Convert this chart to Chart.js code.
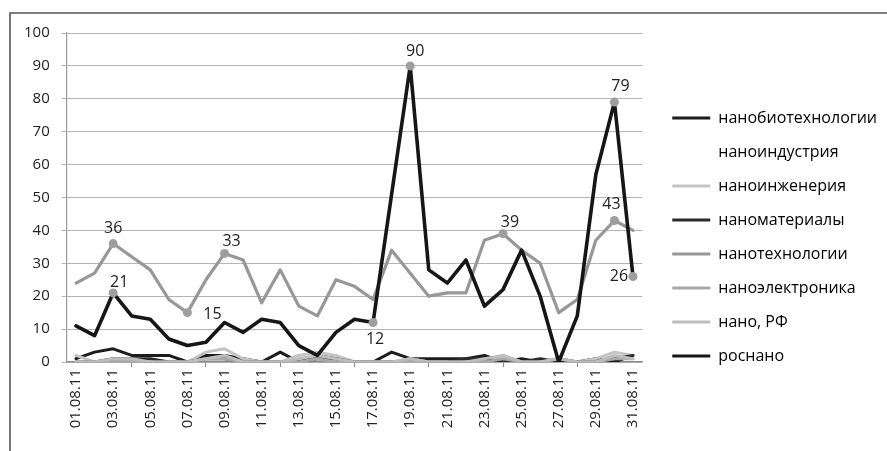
<!DOCTYPE html>
<html>
<head>
<meta charset="utf-8">
<script src="https://cdn.jsdelivr.net/npm/chart.js@4.4.1/dist/chart.umd.min.js"></script>
<style>
  html, body { margin: 0; padding: 0; background: #fff; }
  #wrap { position: relative; width: 887px; height: 451px; }
</style>
</head>
<body>
<div id="wrap"><canvas id="c" width="887" height="451"></canvas></div>
<script>
// Daily mentions of nano-related search terms, August 2011
const days = ['01.08.11','02.08.11','03.08.11','04.08.11','05.08.11','06.08.11','07.08.11','08.08.11',
  '09.08.11','10.08.11','11.08.11','12.08.11','13.08.11','14.08.11','15.08.11','16.08.11',
  '17.08.11','18.08.11','19.08.11','20.08.11','21.08.11','22.08.11','23.08.11','24.08.11',
  '25.08.11','26.08.11','27.08.11','28.08.11','29.08.11','30.08.11','31.08.11'];

const seriesNames = ['нанобиотехнологии','наноиндустрия','наноинженерия','наноматериалы',
  'нанотехнологии','наноэлектроника','нано, РФ','роснано'];

const nanobio   = [1,3,4,2,2,2,0,2,2,1,0,3,0,1,1,0,0,3,1,1,1,1,2,0,1,0,1,0,1,0,2];
const nanoind   = [0,0,0,0,0,0,0,0,0,0,0,0,0,0,0,0,0,0,0,0,0,0,0,0,0,0,0,0,0,0,0];
const nanoeng   = [2,0,0,0,0,0,0,3,4,1,0,0,2,3,2,0,0,0,1,0,0,0,0,2,0,0,0,0,1,3,2];
const nanomat   = [0,0,1,1,1,0,0,1,1,0,0,0,0,2,1,0,0,0,0,0,0,1,1,0,0,1,0,0,0,1,2];
const nanotech  = [24,27,36,32,28,19,15,25,33,31,18,28,17,14,25,23,19,34,27,20,21,21,37,39,34,30,15,19,37,43,40];
const nanoelec  = [0,0,0,0,0,0,0,1,1,0,0,0,0,1,0,0,0,0,0,0,0,0,0,1,0,0,1,0,0,1,1];
const nanoRF    = [0,0,1,1,0,0,0,1,2,0,0,0,1,2,1,0,0,0,1,0,0,0,1,2,0,0,1,0,0,2,1];
const rosnano   = [11,8,21,14,13,7,5,6,12,9,13,12,5,2,9,13,12,51,90,28,24,31,17,22,34,20,0,14,57,79,26];

// indices of points carrying a value label
const nanotechLabeled = [2, 6, 8, 23, 29];
const rosnanoLabeled  = [2, 16, 18, 29, 30];

const seriesValues = [nanobio, nanoind, nanoeng, nanomat, nanotech, nanoelec, nanoRF, rosnano];
const seriesColors = ['#1c1c1c', 'rgba(0,0,0,0)', '#c4c4c4', '#2a2a2a', '#979797', '#a8a8a8', '#bdbdbd', '#161616'];
const seriesWidths = [3, 3, 3, 3, 3.2, 3, 3, 3.6];

// label offsets (px) relative to the marker centre, per labelled point
const labelOffsets = {
  4: [[0, -15], [25, 2], [7, -12], [7, -11], [-3, -16]],
  7: [[6, -10], [2, 17], [5, -14], [6, -16], [-14, 0]]
};
const labeledIdx = { 4: nanotechLabeled, 7: rosnanoLabeled };

function radiusArray(n, labeled) {
  const r = [];
  for (let i = 0; i < n; i++) r.push(labeled.includes(i) ? 4.5 : 0);
  return r;
}

const datasets = seriesNames.map((name, k) => ({
  label: name,
  data: seriesValues[k],
  borderColor: seriesColors[k],
  backgroundColor: seriesColors[k],
  borderWidth: seriesWidths[k],
  tension: 0,
  fill: false,
  order: seriesNames.length - 1 - k,
  pointRadius: labeledIdx[k] ? radiusArray(days.length, labeledIdx[k]) : 0,
  pointBackgroundColor: '#9e9e9e',
  pointBorderWidth: 0,
  pointHoverRadius: 0,
  borderJoinStyle: 'round',
  borderCapStyle: 'round'
}));

// outer frame of the chart box (top and left edges)
const frame = {
  id: 'frame',
  beforeDraw(chart) {
    const ctx = chart.ctx;
    ctx.save();
    ctx.fillStyle = '#fff';
    ctx.fillRect(0, 0, chart.width, chart.height);
    ctx.strokeStyle = '#555';
    ctx.lineWidth = 1.6;
    ctx.beginPath();
    ctx.moveTo(10, chart.height);
    ctx.lineTo(10, 13);
    ctx.lineTo(chart.width, 13);
    ctx.stroke();
    ctx.restore();
  }
};

// value labels next to the marked points
const valueLabels = {
  id: 'valueLabels',
  afterDatasetsDraw(chart) {
    const ctx = chart.ctx;
    ctx.save();
    ctx.font = '16px "Open Sans", sans-serif';
    ctx.fillStyle = '#222';
    ctx.textAlign = 'center';
    ctx.textBaseline = 'middle';
    Object.keys(labeledIdx).forEach(k => {
      const meta = chart.getDatasetMeta(+k);
      labeledIdx[k].forEach((i, j) => {
        const p = meta.data[i];
        const off = labelOffsets[k][j];
        ctx.fillText(String(seriesValues[k][i]), p.x + off[0], p.y + off[1]);
      });
    });
    ctx.restore();
  }
};

const chart = new Chart(document.getElementById('c'), {
  type: 'line',
  data: { labels: days, datasets },
  options: {
    responsive: false,
    animation: false,
    events: [],
    layout: { padding: { left: 12, top: 33, right: 0, bottom: 10 } },
    plugins: {
      legend: {
        position: 'right',
        maxWidth: 260,
        labels: {
          boxWidth: 38,
          boxHeight: 3,
          padding: 18,
          color: '#222',
          font: { family: '"Open Sans", sans-serif', size: 16 },
          sort: (a, b) => a.datasetIndex - b.datasetIndex,
          generateLabels(ch) {
            return ch.data.datasets.map((d, i) => ({
              text: d.label,
              fillStyle: d.borderColor,
              strokeStyle: d.borderColor,
              lineWidth: 0,
              hidden: false,
              datasetIndex: i
            }));
          }
        }
      },
      tooltip: { enabled: false }
    },
    scales: {
      x: {
        offset: true,
        grid: {
          offset: true,
          drawOnChartArea: false,
          drawTicks: true,
          tickLength: 5,
          color: c => (c.index % 2 === 0 ? '#8a8a8a' : 'rgba(0,0,0,0)'),
          tickColor: c => (c.index % 2 === 0 ? '#8a8a8a' : 'rgba(0,0,0,0)')
        },
        border: { color: '#8a8a8a', width: 1.2 },
        ticks: {
          autoSkip: false,
          minRotation: 90,
          maxRotation: 90,
          padding: 2,
          color: '#222',
          font: { family: '"Open Sans", sans-serif', size: 15 },
          callback(v, i) { return i % 2 === 0 ? days[i] : null; }
        },
        afterFit(s) { s.height = 79; }
      },
      y: {
        min: 0,
        max: 100,
        ticks: {
          stepSize: 10,
          padding: 12,
          color: '#222',
          font: { family: '"Open Sans", sans-serif', size: 15 }
        },
        grid: { color: '#b4b4b4', tickLength: 5, tickColor: '#b4b4b4' },
        border: { color: '#9a9a9a', width: 1.2 }
      },
      // empty spacer between the plot and the legend
      gap: {
        position: 'right',
        display: true,
        grid: { display: false },
        border: { display: false },
        ticks: { display: false },
        afterFit(s) { s.width = 12; }
      }
    }
  },
  plugins: [frame, valueLabels]
});
</script>
</body>
</html>
